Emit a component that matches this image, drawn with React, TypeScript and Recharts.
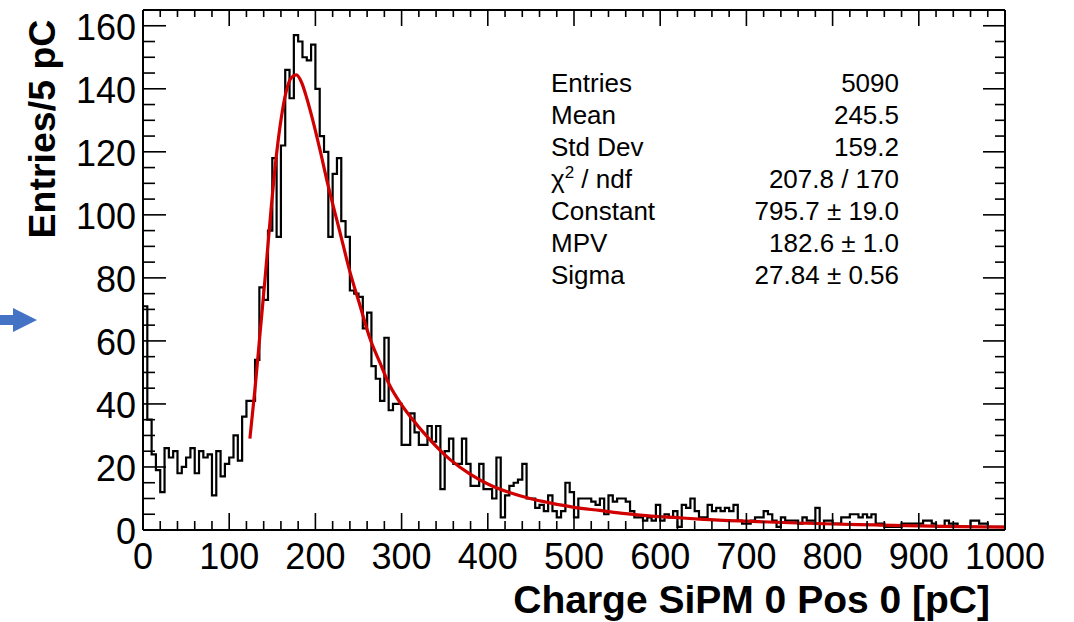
import React from 'react';
import { ComposedChart, Line, XAxis, YAxis } from 'recharts';

const FONT = '"Liberation Sans", Arial, Helvetica, sans-serif';

// charge histogram: entries per 5 pC bin from 0 to 1000 pC
const binWidth = 5;
const counts = [
  71, 35, 24, 19, 12, 26, 23, 25, 18, 20,
  23, 26, 18, 25, 23, 24, 11, 25, 17, 21,
  23, 30, 22, 36, 41, 41, 54, 77, 73, 95,
  118, 93, 122, 146, 137, 157, 155, 150, 149, 154,
  140, 125, 120, 93, 113, 118, 98, 93, 76, 75,
  74, 64, 69, 52, 48, 41, 61, 38, 40, 40,
  27, 27, 37, 31, 27, 27, 33, 28, 33, 13,
  25, 29, 21, 21, 29, 21, 14, 14, 21, 13,
  13, 10, 23, 4, 11, 14, 15, 16, 21, 10,
  10, 7, 8, 6, 11, 6, 4, 6, 15, 12,
  4, 10, 10, 10, 9, 8, 10, 5, 11, 9,
  10, 10, 9, 6, 4, 4, 3, 4, 3, 8,
  3, 5, 4, 6, 1, 8, 7, 10, 6, 4,
  4, 8, 6, 7, 6, 7, 6, 8, 3, 2,
  2, 3, 4, 4, 6, 5, 3, 1, 4, 3,
  3, 3, 2, 4, 3, 3, 7, 0, 3, 3,
  2, 2, 4, 4, 5, 5, 4, 5, 4, 5,
  2, 2, 1, 1, 1, 1, 2, 2, 2, 2,
  2, 3, 3, 2, 1, 1, 3, 2, 2, 1,
  1, 1, 3, 3, 2, 2, 1, 1, 1, 1,
];

// Landau fit, sampled along the curve
const fitCharge = [
  124, 130, 136, 142, 148, 154, 160, 166, 172, 178,
  184, 190, 197, 205, 215, 228, 240, 252, 263, 275,
  286, 298, 310, 333, 356, 379, 400, 426, 450, 472,
  500, 530, 560, 590, 620, 650, 700, 750, 800, 850,
  900, 950, 1000,
];
const fitValue = [
  29, 45, 63, 81, 100, 117, 130, 139, 143.5, 144.4,
  142, 137, 130, 121, 109, 95, 82, 71, 61, 53,
  46, 40.5, 36, 28.6, 22.4, 17.8, 14.6, 11.8, 9.9, 8.6,
  7.2, 6.2, 5.2, 4.4, 3.9, 3.4, 2.8, 2.3, 1.9, 1.6,
  1.3, 1.1, 0.9,
];

const xMajor = [0, 100, 200, 300, 400, 500, 600, 700, 800, 900, 1000];
const yMajor = [0, 20, 40, 60, 80, 100, 120, 140, 160];
const xMinorStep = 20;
const yMinorStep = 5;
const yMax = 165;

const statNames = ['Entries', 'Mean', 'Std Dev', 'chi2', 'Constant', 'MPV', 'Sigma'];
const statValues = ['5090', '245.5', '159.2', '207.8 / 170', '795.7 ± 19.0', '182.6 ± 1.0', '27.84 ± 0.56'];

const histData = counts
  .map((n, i) => ({ q: i * binWidth, n }))
  .concat({ q: counts.length * binWidth, n: counts[counts.length - 1] });
const fitData = fitCharge.map((q, i) => ({ q, f: fitValue[i] }));

const minorTicks = (major: number[], step: number) => {
  const out: number[] = [];
  for (let v = major[0]; v <= major[major.length - 1]; v += step) out.push(v);
  return out;
};
const xTicks = minorTicks(xMajor, xMinorStep);
const yTicks = minorTicks(yMajor, yMinorStep);

const TICK = { stroke: '#000', strokeWidth: 1.6 };

const BottomTick = ({ x, y, payload }: any) => {
  const major = xMajor.includes(payload.value);
  return (
    <g>
      <line x1={x} x2={x} y1={y} y2={y - (major ? 17 : 9)} {...TICK} />
      {major && (
        <text x={x} y={y + 39} textAnchor="middle" fontSize={36} fontFamily={FONT} fill="#000">
          {payload.value}
        </text>
      )}
    </g>
  );
};

const TopTick = ({ x, y, payload }: any) => {
  const major = xMajor.includes(payload.value);
  return <line x1={x} x2={x} y1={y} y2={y + (major ? 16 : 7)} {...TICK} />;
};

const LeftTick = ({ x, y, payload }: any) => {
  const major = yMajor.includes(payload.value);
  return (
    <g>
      <line x1={x} x2={x + (major ? 23 : 12)} y1={y} y2={y} {...TICK} />
      {major && (
        <text x={x - 7} y={y + 14} textAnchor="end" fontSize={36} fontFamily={FONT} fill="#000">
          {payload.value}
        </text>
      )}
    </g>
  );
};

const RightTick = ({ x, y, payload }: any) => {
  const major = yMajor.includes(payload.value);
  return <line x1={x} x2={x - (major ? 22 : 10)} y1={y} y2={y} {...TICK} />;
};

const XTitle = ({ viewBox }: any) => (
  <text
    x={viewBox.x + viewBox.width - 15}
    y={viewBox.y + 83}
    textAnchor="end"
    fontSize={39}
    fontWeight="bold"
    fontFamily={FONT}
    fill="#000"
  >
    Charge SiPM 0 Pos 0 [pC]
  </text>
);

const YTitle = ({ viewBox }: any) => {
  const cx = viewBox.x - 28;
  const cy = 129;
  return (
    <text
      x={cx}
      y={cy}
      transform={`rotate(-90, ${cx}, ${cy})`}
      textAnchor="middle"
      fontSize={37.5}
      fontWeight="bold"
      fontFamily={FONT}
      fill="#000"
    >
      Entries/5 pC
    </text>
  );
};

const StatsBox = () => (
  <svg
    width={1074}
    height={622}
    style={{ position: 'absolute', left: 0, top: 0, pointerEvents: 'none' }}
  >
    {statNames.map((name, i) => (
      <g key={name} fontFamily={FONT} fontSize={26} fill="#000">
        <text x={551} y={92 + i * 32}>
          {name === 'chi2' ? (
            <>
              χ<tspan dy={-10} fontSize={17}>2</tspan>
              <tspan dy={10}> / ndf</tspan>
            </>
          ) : (
            name
          )}
        </text>
        <text x={899} y={92 + i * 32} textAnchor="end">
          {statValues[i]}
        </text>
      </g>
    ))}
    <polygon points="0,315 13,315 13,308 37,320 13,332 13,325 0,325" fill="#4472c4" />
  </svg>
);

export default function App() {
  return (
    <div style={{ position: 'absolute', left: 0, top: 0, width: 1074, height: 622, background: '#fff' }}>
      <ComposedChart
        width={1074}
        height={622}
        margin={{ top: 8, right: 68, bottom: 42, left: 83 }}
      >
        <XAxis
          dataKey="q"
          type="number"
          domain={[0, 1000]}
          ticks={xTicks}
          interval={0}
          tickLine={false}
          tickSize={0}
          tickMargin={0}
          height={50}
          axisLine={{ stroke: '#000', strokeWidth: 2 }}
          tick={BottomTick}
          label={XTitle}
          allowDataOverflow
        />
        <XAxis
          xAxisId="top"
          orientation="top"
          dataKey="q"
          type="number"
          domain={[0, 1000]}
          ticks={xTicks}
          interval={0}
          tickLine={false}
          tickSize={0}
          tickMargin={0}
          height={2}
          axisLine={{ stroke: '#000', strokeWidth: 2 }}
          tick={TopTick}
          allowDataOverflow
        />
        <YAxis
          type="number"
          domain={[0, yMax]}
          ticks={yTicks}
          interval={0}
          tickLine={false}
          tickSize={0}
          tickMargin={0}
          width={60}
          axisLine={{ stroke: '#000', strokeWidth: 2 }}
          tick={LeftTick}
          label={YTitle}
          allowDataOverflow
        />
        <YAxis
          yAxisId="right"
          orientation="right"
          type="number"
          domain={[0, yMax]}
          ticks={yTicks}
          interval={0}
          tickLine={false}
          tickSize={0}
          tickMargin={0}
          width={1}
          axisLine={{ stroke: '#000', strokeWidth: 2 }}
          tick={RightTick}
          allowDataOverflow
        />
        <Line
          data={histData}
          dataKey="n"
          type="stepAfter"
          stroke="#000"
          strokeWidth={2.2}
          dot={false}
          activeDot={false}
          isAnimationActive={false}
        />
        <Line
          data={fitData}
          dataKey="f"
          type="monotone"
          stroke="#d00000"
          strokeWidth={3.2}
          dot={false}
          activeDot={false}
          isAnimationActive={false}
        />
      </ComposedChart>
      <StatsBox />
    </div>
  );
}
